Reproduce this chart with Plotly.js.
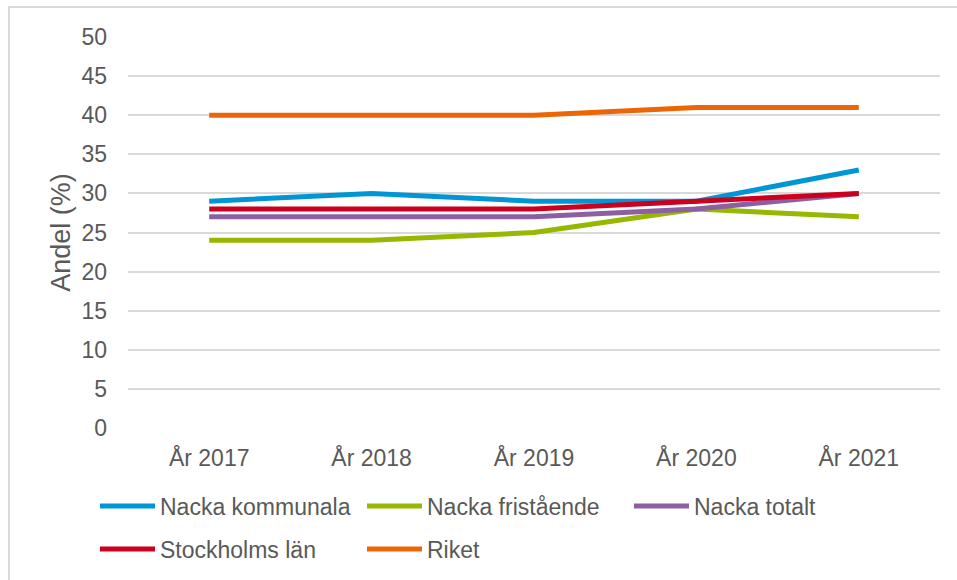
<!DOCTYPE html>
<html>
<head>
<meta charset="utf-8">
<script src="https://cdn.plot.ly/plotly-3.0.1.min.js"></script>
<style>html,body{margin:0;padding:0;background:#fff;}#chart{width:957px;height:580px;}</style>
</head>
<body>
<div id="chart"></div>
<script>
var categories = ["År 2017", "År 2018", "År 2019", "År 2020", "År 2021"];
var seriesNames = ["Nacka kommunala", "Nacka fristående", "Nacka totalt", "Stockholms län", "Riket"];
var nackaKommunala = [29, 30, 29, 29, 33];
var nackaFristaende = [24, 24, 25, 28, 27];
var nackaTotalt = [27, 27, 27, 28, 30];
var stockholmsLan = [28, 28, 28, 29, 30];
var riket = [40, 40, 40, 41, 41];
var yTicks = [0, 5, 10, 15, 20, 25, 30, 35, 40, 45, 50];

var colors = ["#0096d6", "#96b800", "#8e5ea2", "#cc001e", "#ec6608"];
var values = [nackaKommunala, nackaFristaende, nackaTotalt, stockholmsLan, riket];
var legendOf = ["legend", "legend", "legend", "legend2", "legend2"];

var traces = values.map(function (v, i) {
  return {
    type: "scatter", mode: "lines", x: categories, y: v, name: seriesNames[i],
    line: {color: colors[i], width: 5},
    legend: legendOf[i], hoverinfo: "skip"
  };
});

var font = {family: "Liberation Sans, Arial, sans-serif", size: 23, color: "#595959"};
var L = 128, R = 17, T = 37, B = 152;
var W = 957 - L - R, H = 580 - T - B;
function px(x) { return (x - L) / W; }
function py(y) { return (580 - B - y) / H; }

var layout = {
  width: 957, height: 580,
  margin: {l: L, r: R, t: T, b: B, autoexpand: false},
  paper_bgcolor: "#fff", plot_bgcolor: "#fff",
  font: font,
  showlegend: true,
  xaxis: {
    type: "category", tickvals: categories, ticktext: categories,
    range: [-0.5, 4.5], automargin: false,
    showgrid: false, zeroline: false, showline: false, ticks: "",
    ticklabelstandoff: 14, tickfont: font, fixedrange: true
  },
  yaxis: {
    range: [0, 50], tickvals: yTicks, ticktext: yTicks.map(String),
    automargin: false,
    showgrid: true, gridcolor: "#d9d9d9", gridwidth: 2,
    zeroline: false, showline: false, ticks: "",
    ticklabelstandoff: 20, tickfont: font,
    title: {text: "Andel (%)", font: {family: font.family, size: 27, color: "#595959"}, standoff: 2},
    fixedrange: true
  },
  legend: {
    orientation: "h", x: px(95), xanchor: "left", y: py(506), yanchor: "middle",
    font: font, entrywidth: 197, entrywidthmode: "pixels", itemwidth: 55,
    bgcolor: "rgba(0,0,0,0)", tracegroupgap: 0
  },
  legend2: {
    orientation: "h", x: px(95), xanchor: "left", y: py(549), yanchor: "middle",
    font: font, entrywidth: 197, entrywidthmode: "pixels", itemwidth: 55,
    bgcolor: "rgba(0,0,0,0)"
  },
  shapes: [{
    type: "rect", xref: "paper", yref: "paper",
    x0: px(9), x1: px(975), y0: py(7), y1: py(600),
    line: {color: "#d9d9d9", width: 2}, fillcolor: "rgba(0,0,0,0)", layer: "below"
  }]
};

Plotly.newPlot("chart", traces, layout, {displayModeBar: false, staticPlot: true});
</script>
</body>
</html>
